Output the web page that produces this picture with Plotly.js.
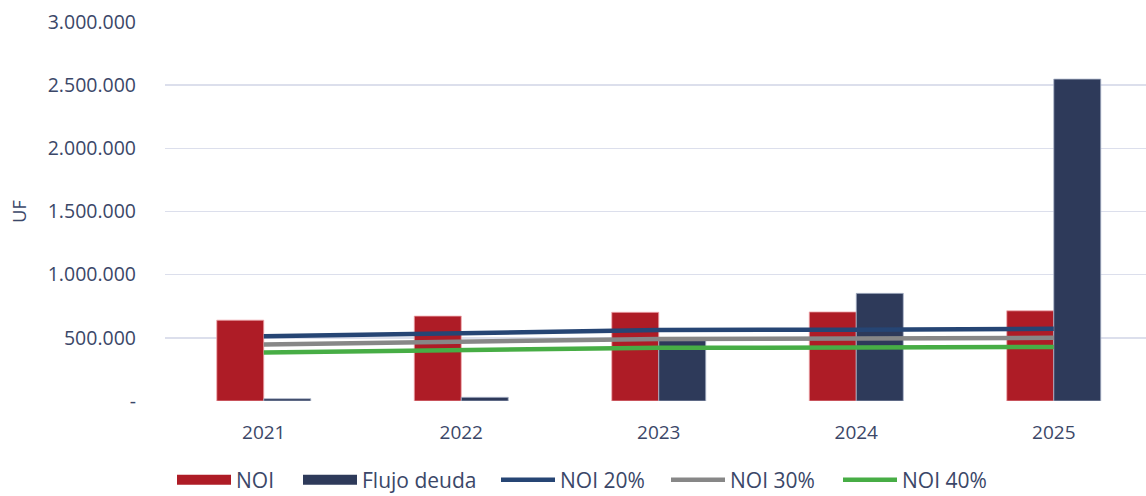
<!DOCTYPE html>
<html>
<head>
<meta charset="utf-8">
<script src="https://cdn.plot.ly/plotly-3.0.1.min.js"></script>
<style>html,body{margin:0;padding:0;background:#fff;}#chart{width:1146px;height:496px;}</style>
</head>
<body>
<div id="chart"></div>
<script>
var years = ["2021", "2022", "2023", "2024", "2025"];
var noi = [640000, 672000, 702000, 705000, 714000];
var flujoDeuda = [18000, 29000, 478000, 852000, 2548000];
var noi20 = [512000, 538000, 562000, 564000, 571000];
var noi30 = [448000, 470000, 491000, 494000, 500000];
var noi40 = [384000, 403000, 421000, 423000, 428000];
var yTickVals = [0, 500000, 1000000, 1500000, 2000000, 2500000, 3000000];
var yTickText = ["-", "500.000", "1.000.000", "1.500.000", "2.000.000", "2.500.000", "3.000.000"];

var textColor = "#3B4768";
var fontFam = "'Open Sans', 'Noto Sans', sans-serif";
var cRed = "#AE1C26", cNavy = "#2E3A5A", cBlue = "#264574", cGray = "#878787", cGreen = "#47AD45";

var traces = [
  {type: "bar", name: "NOI", x: years, y: noi, showlegend: false,
   marker: {color: cRed, line: {color: "rgba(240,170,175,0.8)", width: 1}}},
  {type: "bar", name: "Flujo deuda", x: years, y: flujoDeuda, showlegend: false,
   marker: {color: cNavy, line: {color: "rgba(170,180,200,0.8)", width: 1}}},
  // legend-only entries giving wide rectangular swatches for the bars
  {type: "scatter", mode: "lines", name: "NOI", x: [null], y: [null], legend: "legend",
   line: {color: cRed, width: 12}},
  {type: "scatter", mode: "lines", name: "Flujo deuda", x: [null], y: [null], legend: "legend2",
   line: {color: cNavy, width: 12}},
  {type: "scatter", mode: "lines", name: "NOI 20%", x: years, y: noi20, legend: "legend3",
   line: {color: cBlue, width: 4.5}},
  {type: "scatter", mode: "lines", name: "NOI 30%", x: years, y: noi30, legend: "legend4",
   line: {color: cGray, width: 4.5}},
  {type: "scatter", mode: "lines", name: "NOI 40%", x: years, y: noi40, legend: "legend5",
   line: {color: cGreen, width: 4.5}}
];

function legendAt(px) {
  return {orientation: "h", xref: "container", x: px / 1146, xanchor: "left",
          yref: "container", y: 16 / 496, yanchor: "middle",
          font: {size: 21, color: textColor}, itemwidth: 54,
          bgcolor: "rgba(0,0,0,0)", borderwidth: 0};
}

var layout = {
  width: 1146, height: 496,
  margin: {l: 165, r: 0, t: 22, b: 95},
  paper_bgcolor: "#ffffff", plot_bgcolor: "#ffffff",
  font: {family: fontFam, size: 18, color: textColor},
  barmode: "group", bargap: 0.524, bargroupgap: 0,
  xaxis: {type: "category", range: [-0.5, 4.467], showgrid: false, zeroline: false,
          showline: false, ticks: "", automargin: false, ticklabelstandoff: 18,
          tickfont: {size: 19, color: textColor}},
  yaxis: {range: [0, 3000000], tickvals: yTickVals, ticktext: yTickText, automargin: false,
          showgrid: true, gridcolor: "#DCDFEC", gridwidth: 1.5, zeroline: false,
          showline: false, ticks: "", ticklabelstandoff: 28,
          tickfont: {size: 19.5, color: textColor},
          title: {text: "UF", standoff: 16, font: {size: 18, color: textColor}}},
  showlegend: true,
  legend: legendAt(172),
  legend2: legendAt(298),
  legend3: legendAt(496),
  legend4: legendAt(666),
  legend5: legendAt(838)
};

Plotly.newPlot("chart", traces, layout, {displayModeBar: false, staticPlot: true});
</script>
</body>
</html>
